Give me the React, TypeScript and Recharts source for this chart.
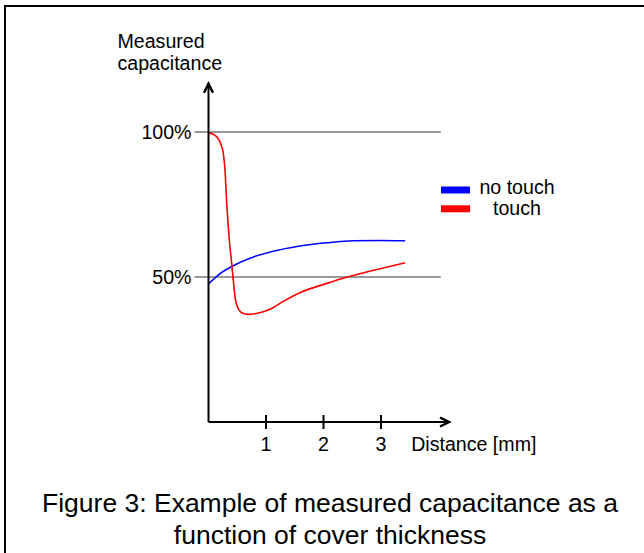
import React from 'react';
import { LineChart, Line, XAxis, YAxis, ReferenceLine, ReferenceDot, Legend } from 'recharts';

// ---- data ----
const TOUCH_DIST = [0, 0.07, 0.14, 0.21, 0.257, 0.287, 0.317, 0.357, 0.403, 0.431, 0.461, 0.5, 0.577, 0.69, 0.87, 1.07, 1.3, 1.59, 2.06, 2.4, 2.93, 3.42];
const TOUCH_CAP = [99.7, 99.3, 98.4, 96.1, 92.7, 86.9, 75.4, 63.9, 54.7, 49.0, 43.2, 39.8, 37.7, 37.1, 37.6, 38.9, 41.6, 44.6, 47.8, 49.9, 52.6, 54.9];
const NO_TOUCH_DIST = [0, 0.2, 0.43, 0.72, 1.07, 1.59, 2.06, 2.52, 2.98, 3.42];
const NO_TOUCH_CAP = [47.6, 51.2, 53.9, 56.5, 58.6, 60.7, 61.8, 62.5, 62.6, 62.5];
const SERIES_NAMES = ['no touch', 'touch'];
const X_TICKS = [1, 2, 3];
const Y_TICKS = [50, 100];
const GRID_VALUES = [50, 100];
const GRID_END = 4.04;
const X_DOMAIN: [number, number] = [0, 4.2];
const Y_DOMAIN: [number, number] = [0, 117];
const Y_TITLE = ['Measured', 'capacitance'];
const X_TITLE = 'Distance [mm]';
const CAPTION = ['Figure 3: Example of measured capacitance as a', 'function of cover thickness'];

const FONT = '"Liberation Sans", Arial, sans-serif';
const FS = 19.6;

const touchData = TOUCH_DIST.map((x, i) => ({ x, y: TOUCH_CAP[i] }));
const noTouchData = NO_TOUCH_DIST.map((x, i) => ({ x, y: NO_TOUCH_CAP[i] }));

const XTick = (props: any) => {
  const { x, y, payload } = props;
  return (
    <g>
      <line x1={x} x2={x} y1={y - 7} y2={y + 7} stroke="#000" strokeWidth={2} />
      <text x={x} y={y + 28.7} textAnchor="middle" fontSize={FS} fontFamily={FONT} fill="#000">
        {payload.value}
      </text>
    </g>
  );
};

const renderXTitle = (props: any) => {
  const vb = props.viewBox || {};
  return (
    <text x={vb.x + 202.7} y={vb.y + 28.7} fontSize={FS} fontFamily={FONT} fill="#000">
      {X_TITLE}
    </text>
  );
};

const renderYTitle = (props: any) => {
  const vb = props.viewBox || {};
  const axisX = vb.x + vb.width;
  return (
    <g>
      <text x={axisX - 91} y={vb.y - 35} fontSize={FS} fontFamily={FONT} fill="#000">
        {Y_TITLE[0]}
      </text>
      <text x={axisX - 91} y={vb.y - 12.7} fontSize={FS} fontFamily={FONT} fill="#000">
        {Y_TITLE[1]}
      </text>
    </g>
  );
};

const UpArrow = (props: any) => {
  const { cx, cy } = props;
  return (
    <path
      d={`M${cx - 4.5},${cy + 10} L${cx},${cy + 1} L${cx + 4.5},${cy + 10}`}
      stroke="#000"
      strokeWidth={2.5}
      fill="none"
    />
  );
};

const RightArrow = (props: any) => {
  const { cx, cy } = props;
  return (
    <path
      d={`M${cx - 10},${cy - 4.5} L${cx - 1},${cy} L${cx - 10},${cy + 4.5}`}
      stroke="#000"
      strokeWidth={2.5}
      fill="none"
    />
  );
};

const renderLegend = (props: any) => {
  const payload = [...(props.payload || [])].sort(
    (a: any, b: any) => SERIES_NAMES.indexOf(a.value) - SERIES_NAMES.indexOf(b.value)
  );
  return (
    <svg width={150} height={60} style={{ display: 'block', overflow: 'visible' }}>
      {payload.map((entry: any, i: number) => (
        <g key={entry.value}>
          <rect x={1} y={16.5 + i * 18.8} width={29} height={7} fill={entry.color} />
          <text x={77} y={23.5 + i * 21} textAnchor="middle" fontSize={FS} fontFamily={FONT} fill="#000">
            {entry.value}
          </text>
        </g>
      ))}
    </svg>
  );
};

export default function App() {
  return (
    <div
      style={{
        position: 'absolute',
        left: 0,
        top: 0,
        width: 644,
        height: 553,
        background: '#fff',
        fontFamily: FONT,
        overflow: 'hidden',
      }}
    >
      <div
        style={{
          position: 'absolute',
          left: 4,
          top: 5,
          width: 700,
          height: 700,
          borderTop: '2px solid #000',
          borderLeft: '2px solid #000',
        }}
      />
      <div style={{ position: 'absolute', left: 0, top: 0 }}>
        <LineChart
          width={644}
          height={553}
          margin={{ top: 82.7, right: 194, bottom: 101, left: 148.5 }}
          style={{ fontFamily: FONT }}
        >
          <XAxis
            type="number"
            dataKey="x"
            domain={X_DOMAIN}
            ticks={X_TICKS}
            height={30}
            tickSize={0}
            tickMargin={0}
            tickLine={false}
            axisLine={{ stroke: '#000', strokeWidth: 2 }}
            tick={<XTick />}
            label={{ content: renderXTitle }}
            allowDataOverflow
          />
          <YAxis
            type="number"
            dataKey="y"
            domain={Y_DOMAIN}
            ticks={Y_TICKS}
            width={60}
            tickSize={14}
            tickMargin={3}
            axisLine={{ stroke: '#000', strokeWidth: 2 }}
            tickLine={{ stroke: '#333', strokeWidth: 1 }}
            tick={{ fill: '#000', fontSize: FS, fontFamily: FONT }}
            tickFormatter={(v: number) => `${v}%`}
            label={{ content: renderYTitle }}
            allowDataOverflow
          />
          {GRID_VALUES.map((v) => (
            <ReferenceLine
              key={v}
              segment={[
                { x: 0, y: v },
                { x: GRID_END, y: v },
              ]}
              stroke="#333"
              strokeWidth={1}
            />
          ))}
          <ReferenceDot x={X_DOMAIN[0]} y={Y_DOMAIN[1]} shape={UpArrow} />
          <ReferenceDot x={X_DOMAIN[1]} y={Y_DOMAIN[0]} shape={RightArrow} />
          <Line
            data={noTouchData}
            dataKey="y"
            name={SERIES_NAMES[0]}
            type="monotone"
            stroke="#0000ff"
            strokeWidth={1.6}
            dot={false}
            isAnimationActive={false}
          />
          <Line
            data={touchData}
            dataKey="y"
            name={SERIES_NAMES[1]}
            type="monotone"
            stroke="#ff0000"
            strokeWidth={1.6}
            dot={false}
            isAnimationActive={false}
          />
          <Legend
            layout="vertical"
            align="center"
            verticalAlign="middle"
            wrapperStyle={{ left: 440, top: 170, width: 150, height: 60 }}
            content={renderLegend}
          />
        </LineChart>
      </div>
      <svg
        width={644}
        height={553}
        style={{ position: 'absolute', left: 0, top: 0, pointerEvents: 'none' }}
      >
        <text x={330} y={512} textAnchor="middle" fontSize={26.5} fontFamily={FONT} fill="#000">
          {CAPTION[0]}
        </text>
        <text x={330} y={543.5} textAnchor="middle" fontSize={26.5} fontFamily={FONT} fill="#000">
          {CAPTION[1]}
        </text>
      </svg>
    </div>
  );
}
